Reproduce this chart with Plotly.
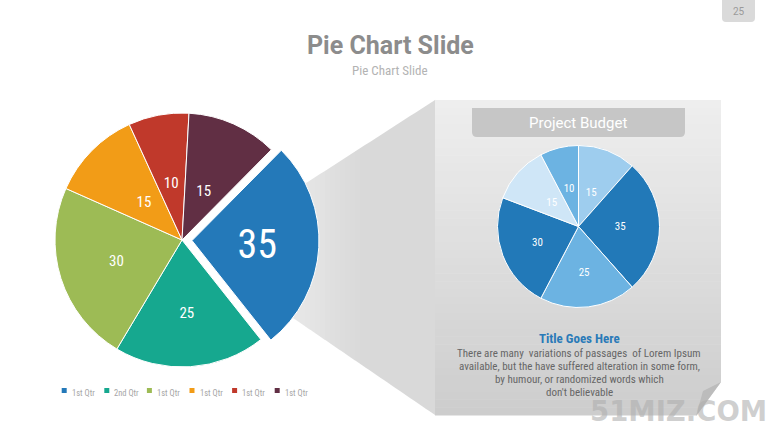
import plotly.graph_objects as go

W, H = 780, 439

# ---------------- data ----------------
legend_labels = ["1st Qtr", "2nd Qtr", "1st Qtr", "1st Qtr", "1st Qtr", "1st Qtr"]
main_values = [35, 25, 30, 15, 10, 15]
main_colors = ["#2479b9", "#16a88f", "#9dbb55", "#f29c17", "#c0392b", "#612f44"]
main_font_sizes = [40, 15, 15, 15, 15, 15]

budget_values = [15, 35, 25, 30, 15, 10]
budget_colors = ["#9ecdee", "#2279b8", "#6cb3e2", "#2279b8", "#cfe6f7", "#6cb3e2"]

title_text = "Pie Chart Slide"
subtitle_text = "Pie Chart Slide"
panel_title = "Project Budget"
body_title = "Title Goes Here"
body_lines = [
    "There are many  variations of passages  of Lorem Ipsum",
    "available, but the have suffered alteration in some form,",
    "by humour, or randomized words which",
    "don't believable",
]
page_number = "25"

COND = "Roboto Condensed, Liberation Sans Narrow, Roboto, sans-serif"


def px(x):
    return x / W


def py(y):
    return 1 - y / H


def hexmix(c1, c2, t):
    a = [int(c1[i:i + 2], 16) for i in (1, 3, 5)]
    b = [int(c2[i:i + 2], 16) for i in (1, 3, 5)]
    return "#" + "".join(f"{round(a[k] + (b[k] - a[k]) * t):02x}" for k in range(3))


def poly(points):
    return "M" + "L".join(f"{px(x):.5f},{py(y):.5f}" for x, y in points) + "Z"


shapes = []

# beam (trapezoid) from the pie to the panel, light horizontal gradient
def top_y(x):
    return 187 + (300 - x) * (87 / 135)


def bot_y(x):
    return 318 + (x - 293) * (97 / 142)


nstrip = 29
x_left, x_right = 290, 435
for i in range(nstrip):
    xa = x_left + (x_right - x_left) * i / nstrip
    xb = x_left + (x_right - x_left) * (i + 1) / nstrip + 0.4
    t = min(1.0, (xa - x_left) / 70)
    col = hexmix("#e8e8e8", "#d9d9d9", t)
    shapes.append(dict(type="path", xref="paper", yref="paper", layer="below",
                       path=poly([(xa, top_y(xa)), (xb, top_y(xb)), (xb, bot_y(xb)), (xa, bot_y(xa))]),
                       fillcolor=col, line=dict(width=0)))

# panel with vertical gradient
box_x0, box_x1, box_y0, box_y1 = 435, 721, 100, 415
nb = 40
for i in range(nb):
    ya = box_y0 + (box_y1 - box_y0) * i / nb
    yb = box_y0 + (box_y1 - box_y0) * (i + 1) / nb + 0.5
    col = hexmix("#eeeeee", "#cdcdcd", i / (nb - 1))
    shapes.append(dict(type="rect", xref="paper", yref="paper", layer="below",
                       x0=px(box_x0), x1=px(box_x1), y0=py(ya), y1=py(yb),
                       fillcolor=col, line=dict(width=0)))

# folded corner
shapes.append(dict(type="path", xref="paper", yref="paper", layer="below",
                   path=poly([(721, 382), (722.5, 416.5), (696, 416.5)]),
                   fillcolor="#ffffff", line=dict(width=0)))
shapes.append(dict(type="path", xref="paper", yref="paper", layer="below",
                   path=poly([(721, 382), (696, 416), (703, 391)]),
                   fillcolor="#bcbcbc", line=dict(width=0)))

# panel header (rounded rect)
hx0, hx1, hy0, hy1, rr = 472, 685, 108, 137, 5
hdr = (f"M{px(hx0):.5f},{py(hy0):.5f}L{px(hx1):.5f},{py(hy0):.5f}"
       f"L{px(hx1):.5f},{py(hy1 - rr):.5f}Q{px(hx1):.5f},{py(hy1):.5f} {px(hx1 - rr):.5f},{py(hy1):.5f}"
       f"L{px(hx0 + rr):.5f},{py(hy1):.5f}Q{px(hx0):.5f},{py(hy1):.5f} {px(hx0):.5f},{py(hy1 - rr):.5f}Z")
shapes.append(dict(type="path", xref="paper", yref="paper", layer="below",
                   path=hdr, fillcolor="#c6c6c6", line=dict(width=0)))

# page number tab
tx0, tx1, ty1, tr = 722, 755, 22, 4
tab = (f"M{px(tx0):.5f},{py(0):.5f}L{px(tx1):.5f},{py(0):.5f}"
       f"L{px(tx1):.5f},{py(ty1 - tr):.5f}Q{px(tx1):.5f},{py(ty1):.5f} {px(tx1 - tr):.5f},{py(ty1):.5f}"
       f"L{px(tx0 + tr):.5f},{py(ty1):.5f}Q{px(tx0):.5f},{py(ty1):.5f} {px(tx0):.5f},{py(ty1 - tr):.5f}Z")
shapes.append(dict(type="path", xref="paper", yref="paper", layer="below",
                   path=tab, fillcolor="#dadada", line=dict(width=0)))

# ---------------- traces ----------------
fig = go.Figure()


def add_pie(values, colors, cx, cy, r, rotation, font_sizes, pulled_px=None,
            narrow_max=15, k_narrow=0.57, k_wide=0.9):
    n = len(values)
    pulls = [0.0] * n
    if pulled_px:
        for i, d in pulled_px.items():
            pulls[i] = d / r
    half = r * (1 + max(pulls))
    fig.add_trace(go.Pie(
        values=values, labels=[f"slice {i + 1}" for i in range(n)],
        marker=dict(colors=colors, line=dict(color="#ffffff", width=1)),
        pull=pulls, sort=False, direction="clockwise", rotation=rotation,
        textinfo="none",
        domain=dict(x=[px(cx - half), px(cx + half)], y=[py(cy + half), py(cy - half)]),
        showlegend=False, hoverinfo="value",
    ))
    # label layers: value labels placed on transparent copies of the pie
    for k, keep in ((k_narrow, lambda v: v <= narrow_max), (k_wide, lambda v: v > narrow_max)):
        ro = r * k
        opulls = [0.0] * n
        if pulled_px:
            for i, d in pulled_px.items():
                opulls[i] = d / ro
        ohalf = ro * (1 + max(opulls))
        fig.add_trace(go.Pie(
            values=values, labels=[f"slice {i + 1}" for i in range(n)],
            marker=dict(colors=["rgba(0,0,0,0)"] * n, line=dict(width=0)),
            pull=opulls, sort=False, direction="clockwise", rotation=rotation,
            text=[str(v) if keep(v) else "" for v in values],
            textinfo="text", textposition="inside", insidetextorientation="horizontal",
            textfont=dict(family=COND, color="#ffffff", size=font_sizes),
            domain=dict(x=[px(cx - ohalf), px(cx + ohalf)], y=[py(cy + ohalf), py(cy - ohalf)]),
            showlegend=False, hoverinfo="skip",
        ))


add_pie(main_values, main_colors, 182, 240, 127, 44.7, main_font_sizes, pulled_px={0: 10})
add_pie(budget_values, budget_colors, 578.5, 226.5, 81, 0, [11] * len(budget_values),
        k_narrow=0.6, k_wide=0.9)

# ---------------- annotations ----------------
ann = []
ann.append(dict(text=title_text, x=px(390), y=py(45), xref="paper", yref="paper",
                showarrow=False, font=dict(family="Roboto, sans-serif", size=25, color="#8c8c8c", weight="bold"),
                xanchor="center", yanchor="middle"))
ann.append(dict(text=subtitle_text, x=px(390), y=py(70), xref="paper", yref="paper",
                showarrow=False, font=dict(family=COND, size=13, color="#b3b3b3"),
                xanchor="center", yanchor="middle"))
ann.append(dict(text=page_number, x=px(738.5), y=py(12), xref="paper", yref="paper",
                showarrow=False, font=dict(family="Roboto, sans-serif", size=10, color="#9a9a9a"),
                xanchor="center", yanchor="middle"))
ann.append(dict(text=panel_title, x=px(578), y=py(122.5), xref="paper", yref="paper",
                showarrow=False, font=dict(family="Roboto, sans-serif", size=15, color="#ffffff"),
                xanchor="center", yanchor="middle"))
ann.append(dict(text=body_title, x=px(579), y=py(338.5), xref="paper", yref="paper",
                showarrow=False, font=dict(family=COND, size=13, color="#2a7ab8", weight="bold"),
                xanchor="center", yanchor="middle"))
for j, line in enumerate(body_lines):
    ann.append(dict(text=line, x=px(579), y=py(353 + 13 * j), xref="paper", yref="paper",
                    showarrow=False, font=dict(family=COND, size=11, color="#666666"),
                    xanchor="center", yanchor="middle"))
ann.append(dict(text="51MIZ.COM", x=px(678.5), y=py(411), xref="paper", yref="paper",
                showarrow=False, font=dict(family="DejaVu Sans, sans-serif", size=27.5, color="rgba(175,175,175,0.6)", weight="bold"),
                xanchor="center", yanchor="middle"))

# legend (squares + labels)
lx0, lstep = 61.7, 42.6
for i, (lab, col) in enumerate(zip(legend_labels, main_colors)):
    x0 = lx0 + lstep * i
    shapes.append(dict(type="rect", xref="paper", yref="paper",
                       x0=px(x0), x1=px(x0 + 5), y0=py(393), y1=py(388),
                       fillcolor=col, line=dict(width=0)))
    ann.append(dict(text=lab, x=px(x0 + 8), y=py(393), xref="paper", yref="paper",
                    showarrow=False, font=dict(family=COND, size=8.5, color="#a6a6a6"),
                    xanchor="left", yanchor="middle"))

fig.update_layout(
    width=W, height=H,
    margin=dict(l=0, r=0, t=0, b=0),
    paper_bgcolor="#ffffff",
    plot_bgcolor="#ffffff",
    shapes=shapes,
    annotations=ann,
    showlegend=False,
)

fig.write_html("out.html", config={"displayModeBar": False},
               post_script="document.body.style.margin='0';document.body.style.overflow='hidden';")
